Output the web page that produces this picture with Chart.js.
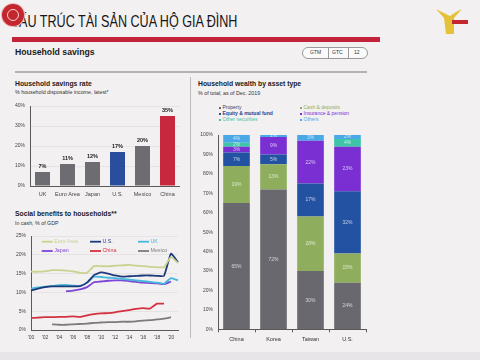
<!DOCTYPE html>
<html><head><meta charset="utf-8">
<script src="https://cdn.jsdelivr.net/npm/chart.js@4"></script>
<style>
body{margin:0;width:480px;height:360px;overflow:hidden;background:#f3f0f1;position:relative;font-family:'Liberation Sans',Arial,sans-serif;color:#1b1b1b}
.abs{position:absolute;white-space:nowrap;line-height:1}
canvas{position:absolute}
</style></head><body>

<div class="abs" style="left:10px;top:13px;font-size:17px;transform:scaleX(0.74);transform-origin:0 0;color:#161616">CẤU TRÚC TÀI SẢN CỦA HỘ GIA ĐÌNH</div>
<div class="abs" style="left:2px;top:4px;width:22px;height:22px;border-radius:50%;background:#c4262e;box-shadow:0 0 0 1px #e9b9bb"></div>
<div class="abs" style="left:7px;top:9px;width:10px;height:10px;border-radius:50%;border:1px solid #f3d6d6"></div>
<svg class="abs" style="left:432px;top:6px" width="40" height="30" viewBox="0 0 40 30">
  <path d="M4 3 L12 12 L14 28 L22 28 L22 12 L30 3 L24 6 L18 10 L10 6 Z" fill="#e6c23a"/>
  <rect x="20" y="14" width="16" height="4" fill="#c4262e"/>
</svg>
<div class="abs" style="left:12px;top:37px;width:368px;height:5px;background:#c3223a"></div>

<div class="abs" style="left:15px;top:47.5px;font-size:8.7px;font-weight:bold">Household savings</div>
<div class="abs" style="left:302px;top:46.5px;width:64px;height:10px;border:1px solid #9a9a9a;border-radius:6px;background:#fbfafa;font-size:5px;color:#333">
  <span class="abs" style="left:7px;top:2.6px">GTM</span>
  <span class="abs" style="left:25px;top:0;width:1px;height:10px;background:#9a9a9a"></span>
  <span class="abs" style="left:29px;top:2.6px">GTC</span>
  <span class="abs" style="left:45px;top:0;width:1px;height:10px;background:#9a9a9a"></span>
  <span class="abs" style="left:51px;top:2.6px">12</span>
</div>
<div class="abs" style="left:15px;top:71px;width:352px;height:1.5px;background:#b4b2b4"></div>
<div class="abs" style="left:190px;top:77px;width:1px;height:261px;background:#bdbbbd"></div>

<div class="abs" style="left:15px;top:80.7px;font-size:6.8px;font-weight:bold">Household savings rate</div>
<div class="abs" style="left:15px;top:90.1px;font-size:5.3px;color:#333">% household disposable income, latest*</div>
<div class="abs" style="left:15px;top:210.7px;font-size:6.8px;font-weight:bold">Social benefits to households**</div>
<div class="abs" style="left:15px;top:221.4px;font-size:5.3px;color:#333">In cash, % of GDP</div>
<div class="abs" style="left:198px;top:80.7px;font-size:6.8px;font-weight:bold">Household wealth by asset type</div>
<div class="abs" style="left:198px;top:90.7px;font-size:5.3px;color:#333">% of total, as of Dec. 2019</div>
<div id="wlegend"></div>

<canvas id="c1" width="170" height="104" style="left:10px;top:98px"></canvas>
<canvas id="c2" width="173" height="116" style="left:10px;top:228px"></canvas>
<canvas id="c3" width="172" height="218" style="left:195px;top:127px"></canvas>
<div class="abs" style="left:0;top:352px;width:480px;height:8px;background:#e7e5e7"></div>

<script>
// ---- Household savings rate ----
const savingsCategories = ['UK','Euro Area','Japan','U.S.','Mexico','China'];
const savingsRate = [7, 11, 12, 17, 20, 35];
const savingsColors = ['#6d6c71','#6d6c71','#6d6c71','#2a4d9e','#6d6c71','#c8283d'];
const savingsTicks = [0,10,20,30,40];

// ---- Social benefits to households ----
const benefitYears = ["'00","'01","'02","'03","'04","'05","'06","'07","'08","'09","'10","'11","'12","'13","'14","'15","'16","'17","'18","'19","'20","'21"];
const euroArea = [15.5,15.5,15.6,15.9,15.9,15.8,15.6,15.2,15.2,17.0,17.0,16.9,17.1,17.2,17.3,17.1,17.0,16.8,16.7,16.7,19.4,17.8];
const usBenefits = [10.5,11.0,11.4,11.6,11.6,11.6,11.6,11.7,12.6,14.6,15.3,15.0,14.5,14.2,14.3,14.4,14.5,14.5,14.4,14.4,20.3,18.0];
const ukBenefits = [11.0,11.3,11.5,11.7,11.9,12.0,11.8,11.7,12.6,14.2,14.1,13.9,13.8,13.6,13.4,13.2,13.0,12.8,12.6,12.3,13.8,13.2];
const japanBenefits = [null,null,null,null,null,10.3,10.5,10.8,11.4,12.7,12.9,13.1,13.2,13.2,13.0,12.8,12.6,12.5,12.4,12.2,12.9,null];
const chinaBenefits = [3.2,3.3,3.4,3.4,3.5,3.5,3.6,3.5,3.9,4.2,4.4,4.5,4.7,5.0,5.3,5.6,5.8,5.7,7.0,7.0,null,null];
const mexicoBenefits = [null,null,null,1.5,1.4,1.4,1.5,1.6,1.7,1.9,2.0,2.1,2.1,2.2,2.2,2.3,2.5,2.6,2.8,3.0,3.4,null];
const benefitSeriesNames = ['Euro Area','U.S.','UK','Japan','China','Mexico'];
const benefitColors = ['#c9d28e','#1f3a7a','#46b8dc','#7d45d6','#d2313f','#7b7b7b'];

// ---- Household wealth by asset type ----
const wealthCountries = ['China','Korea','Taiwan','U.S.'];
const property = [65, 72, 30, 24];
const cashDeposits = [19, 13, 28, 15];
const equityFunds = [7, 5, 17, 32];
const insurancePension = [3, 9, 22, 23];
const otherSecurities = [2, 0, 0, 4];
const others = [4, 1, 3, 2];
const wealthSeriesNames = ['Property','Cash & deposits','Equity & mutual fund','Insurance & pension','Other securities','Others'];
const wealthColors = ['#69686e','#8fae5d','#2452a2','#7a2fd2','#3ec4a6','#48a9e6'];
const wealthTextColors = ['#3d3d55','#8fae5d','#1f3f8e','#7a2fd2','#3ec4a6','#48a9e6'];

Chart.defaults.font.family = "'Liberation Sans', Arial, sans-serif";
Chart.defaults.color = '#444';
const axisColor = '#5a5a5a';

// value labels above bars
const topLabels = {id:'topLabels', afterDatasetsDraw(chart){
  const ctx = chart.ctx; ctx.save();
  ctx.font = "bold 5.5px 'Liberation Sans', Arial"; ctx.fillStyle = '#222';
  ctx.textAlign = 'center'; ctx.textBaseline = 'bottom';
  chart.getDatasetMeta(0).data.forEach((el,i)=>{
    ctx.fillText(chart.data.datasets[0].data[i] + '%', el.x, el.y - 3);
  });
  ctx.restore();
}};

new Chart(document.getElementById('c1'), {
  type:'bar',
  data:{labels:savingsCategories, datasets:[{data:savingsRate, backgroundColor:savingsColors, barPercentage:0.6, categoryPercentage:1}]},
  options:{responsive:false, animation:false, layout:{padding:{top:4,right:0,left:0,bottom:0}},
    plugins:{legend:{display:false}, tooltip:{enabled:false}},
    scales:{
      y:{min:0,max:40, afterBuildTicks(s){s.ticks = savingsTicks.map(v=>({value:v}));},
        ticks:{callback:v=>v+'%', font:{size:5}, padding:5, color:'#444'},
        grid:{color:'rgba(0,0,0,0.05)', drawTicks:false}, border:{color:axisColor, width:1},
        afterFit(s){s.width = 20;}},
      x:{grid:{display:false, drawTicks:false}, border:{color:axisColor, width:1},
        ticks:{font:{size:5.5}, padding:5, color:'#444', maxRotation:0, autoSkip:false},
        afterFit(s){s.height = 16;}}
    }},
  plugins:[topLabels]
});

// in-plot legend for line chart
const lineLegend = {id:'lineLegend', afterDraw(chart){
  const ctx = chart.ctx, a = chart.chartArea; ctx.save();
  const cols = [a.left+10.7, a.left+59, a.left+107];
  const rows = [a.top+5.7, a.top+15];
  ctx.font = "5.3px 'Liberation Sans', Arial"; ctx.textBaseline = 'middle';
  chart.data.datasets.forEach((ds,i)=>{
    const x = cols[i%3], y = rows[Math.floor(i/3)];
    ctx.strokeStyle = ds.borderColor; ctx.lineWidth = 1.8;
    ctx.beginPath(); ctx.moveTo(x,y); ctx.lineTo(x+11,y); ctx.stroke();
    ctx.fillStyle = ds.borderColor; ctx.fillText(ds.label, x+12.5, y);
  });
  ctx.restore();
}};

const benefitSeries = [euroArea, usBenefits, ukBenefits, japanBenefits, chinaBenefits, mexicoBenefits];
new Chart(document.getElementById('c2'), {
  type:'line',
  data:{labels:benefitYears, datasets:benefitSeries.map((d,i)=>({label:benefitSeriesNames[i], data:d, borderColor:benefitColors[i], borderWidth:1.8, pointRadius:0, tension:0.15, spanGaps:false}))},
  options:{responsive:false, animation:false, layout:{padding:{top:5.3,right:2,left:0,bottom:0}},
    plugins:{legend:{display:false}, tooltip:{enabled:false}},
    scales:{
      y:{min:0,max:25, ticks:{stepSize:5, callback:v=>v+'%', font:{size:5}, padding:5, color:'#444'},
        grid:{color:'rgba(0,0,0,0.05)', drawTicks:false}, border:{color:axisColor, width:1},
        afterFit(s){s.width = 21;}},
      x:{offset:false, grid:{display:false, drawTicks:false}, border:{color:axisColor, width:1},
        ticks:{autoSkip:false, maxRotation:0, font:{size:5}, padding:5, color:'#444',
          callback(v,i){ return i%2===0 ? this.getLabelForValue(v) : ''; }},
        afterFit(s){s.height = 14;}}
    }},
  plugins:[lineLegend]
});

// segment labels for stacked bars
const segLabels = {id:'segLabels', afterDatasetsDraw(chart){
  const ctx = chart.ctx; ctx.save();
  ctx.font = "5px 'Liberation Sans', Arial"; ctx.fillStyle = 'rgba(255,255,255,0.7)';
  ctx.textAlign = 'center'; ctx.textBaseline = 'middle';
  chart.data.datasets.forEach((ds,i)=>{
    chart.getDatasetMeta(i).data.forEach((el,j)=>{
      const v = ds.data[j]; if(!v) return;
      const p = el.getProps(['x','y','base'], true);
      ctx.fillText(v + '%', p.x, (p.y + p.base)/2);
    });
  });
  ctx.restore();
}};

const wealthSeries = [property, cashDeposits, equityFunds, insurancePension, otherSecurities, others];
new Chart(document.getElementById('c3'), {
  type:'bar',
  data:{labels:wealthCountries, datasets:wealthSeries.map((d,i)=>({label:wealthSeriesNames[i], data:d, backgroundColor:wealthColors[i], barPercentage:0.72, categoryPercentage:1}))},
  options:{responsive:false, animation:false, layout:{padding:{top:4.7,right:1,left:0,bottom:0}},
    plugins:{legend:{display:false}, tooltip:{enabled:false}},
    scales:{
      y:{stacked:true, min:0, max:100, ticks:{stepSize:10, callback:v=>v+'%', font:{size:5}, padding:5, color:'#444'},
        grid:{display:false, drawTicks:false}, border:{color:axisColor, width:1},
        afterFit(s){s.width = 23;}},
      x:{stacked:true, grid:{drawOnChartArea:false, drawTicks:true, tickLength:3, color:axisColor}, border:{color:axisColor, width:1},
        ticks:{font:{size:5.5}, padding:4, color:'#333', maxRotation:0},
        afterFit(s){s.height = 15.7;}}
    }},
  plugins:[segLabels]
});

// HTML legend for wealth chart (two columns, three rows)
const lg = document.getElementById('wlegend');
const legendOrder = [0,2,4,1,3,5];
legendOrder.forEach((si,k)=>{
  const col = Math.floor(k/3), row = k%3;
  const d = document.createElement('div');
  d.className = 'abs';
  d.style.cssText = `left:${219 + col*81}px;top:${105 + row*6}px;font-size:5px;color:${wealthTextColors[si]};font-weight:${si===2?'bold':'normal'}`;
  d.innerHTML = `<span style="display:inline-block;width:2px;height:2px;background:${wealthColors[si]};margin-right:1.5px;vertical-align:middle"></span>${wealthSeriesNames[si]}`;
  lg.appendChild(d);
});
</script>
</body></html>
